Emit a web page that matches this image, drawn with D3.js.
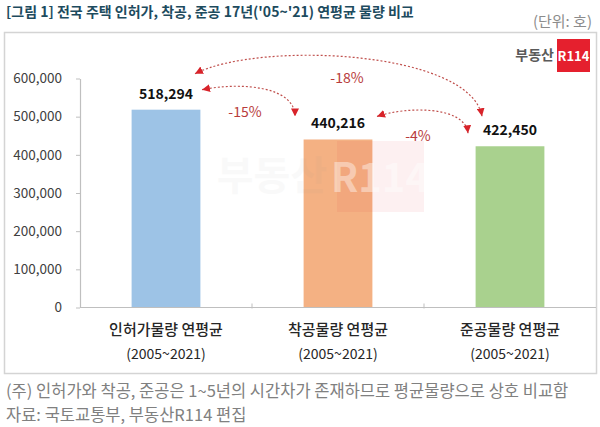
<!DOCTYPE html>
<html>
<head>
<meta charset="utf-8">
<script src="https://cdn.jsdelivr.net/npm/d3@7"></script>
<style>
  body { margin: 0; background: #fff; }
  text { font-family: "Noto Sans CJK KR", "Noto Sans", sans-serif; }
</style>
</head>
<body>
<div id="chart"></div>
<script>
// data
var categories = ["인허가물량 연평균", "착공물량 연평균", "준공물량 연평균"];
var periods = ["(2005~2021)", "(2005~2021)", "(2005~2021)"];
var values = [518294, 440216, 422450];
var barColors = ["#9dc3e6", "#f4b183", "#a9d18e"];
var yTicks = [0, 100000, 200000, 300000, 400000, 500000, 600000];
// comparison arrows: from bar, to bar, label
var arrowFrom = [0, 1, 0];
var arrowTo = [1, 2, 2];
var arrowLabels = ["-15%", "-4%", "-18%"];

var width = 600, height = 427;
var margin = {top: 78, right: 4, bottom: 120, left: 80};

var svg = d3.select("#chart")
  .append("svg")
    .attr("width", width)
    .attr("height", height);

// title + unit
svg.append("text").attr("x", 6).attr("y", 17)
  .text("[그림 1] 전국 주택 인허가, 착공, 준공 17년('05~'21) 연평균 물량 비교")
  .style("font-size", "14px").style("font-weight", "bold").style("fill", "#1d4b5e");
svg.append("text").attr("x", 592).attr("y", 27).attr("text-anchor", "end")
  .text("(단위: 호)").style("font-size", "15px").style("fill", "#8c8c8c");

// frame
svg.append("rect").attr("x", 4.5).attr("y", 32.5).attr("width", 592).attr("height", 341)
  .style("fill", "none").style("stroke", "#d4d4d4").style("stroke-width", 1.5);

var x = d3.scaleBand()
  .domain(d3.range(categories.length))
  .range([margin.left, 596])
  .padding(0);

var y = d3.scaleLinear()
  .domain([0, 600000])
  .range([307.5, margin.top + 0.5]);

var barW = x.bandwidth() * 0.4;

// bars
svg.append("g")
  .selectAll("rect")
  .data(values)
  .enter()
  .append("rect")
    .attr("x", function (d, i) { return x(i) + (x.bandwidth() - barW) / 2; })
    .attr("y", function (d) { return y(d); })
    .attr("width", barW)
    .attr("height", function (d) { return y(0) - y(d); })
    .style("fill", function (d, i) { return barColors[i]; });

// faint watermark
var wm = svg.append("g");
wm.append("rect").attr("x", 337).attr("y", 141).attr("width", 87).attr("height", 71)
  .style("fill", "#e8303a").style("opacity", 0.07);
wm.append("text").attr("x", 272).attr("y", 190).attr("text-anchor", "middle")
  .text("부동산").style("font-size", "40px").style("font-weight", "bold")
  .style("fill", "#888").style("opacity", 0.045);
wm.append("text").attr("x", 380).attr("y", 192).attr("text-anchor", "middle")
  .text("R114").style("font-size", "40px").style("font-weight", "bold")
  .style("fill", "#fff").style("opacity", 0.4);

// Y axis
var yAxis = svg.append("g")
  .attr("transform", "translate(" + margin.left + ",0)")
  .call(d3.axisLeft(y).tickValues(yTicks).tickFormat(d3.format(",")).tickSizeInner(4).tickSizeOuter(0).tickPadding(14));
yAxis.select(".domain").style("stroke", "#bfbfbf").style("stroke-width", 1.2);
yAxis.selectAll(".tick line").style("stroke", "#bfbfbf");
yAxis.selectAll(".tick text").style("font-size", "13.5px").style("fill", "#404040")
  .style("font-family", "'Noto Sans CJK KR', 'Noto Sans', sans-serif");

// X axis line with boundary ticks
var xg = svg.append("g");
xg.append("line").attr("x1", margin.left).attr("x2", 596).attr("y1", y(0)).attr("y2", y(0))
  .style("stroke", "#bfbfbf").style("stroke-width", 1.2);
xg.selectAll(".bt")
  .data(d3.range(1, categories.length))
  .enter()
  .append("line")
    .attr("x1", function (d) { return x(d); })
    .attr("x2", function (d) { return x(d); })
    .attr("y1", y(0) - 4).attr("y2", y(0) + 1)
    .style("stroke", "#bfbfbf");

// category labels
svg.append("g").selectAll("text").data(categories).enter().append("text")
  .attr("x", function (d, i) { return x(i) + x.bandwidth() / 2; })
  .attr("y", 335)
  .attr("text-anchor", "middle")
  .text(function (d) { return d; })
  .style("font-size", "15px").style("font-weight", "500").style("fill", "#262626");
svg.append("g").selectAll("text").data(periods).enter().append("text")
  .attr("x", function (d, i) { return x(i) + x.bandwidth() / 2; })
  .attr("y", 359)
  .attr("text-anchor", "middle")
  .text(function (d) { return d; })
  .style("font-size", "14px").style("fill", "#262626");

// value labels
svg.append("g").selectAll("text").data(values).enter().append("text")
  .attr("x", function (d, i) { return x(i) + x.bandwidth() / 2; })
  .attr("y", function (d) { return y(d) - 11; })
  .attr("text-anchor", "middle")
  .text(function (d) { return d3.format(",")(d); })
  .style("font-size", "14px").style("font-weight", "bold").style("fill", "#111");

// arrows
svg.append("defs").append("marker")
  .attr("id", "head")
  .attr("viewBox", "0 0 10 10")
  .attr("refX", 10).attr("refY", 5)
  .attr("markerWidth", 8).attr("markerHeight", 8)
  .attr("markerUnits", "userSpaceOnUse")
  .attr("orient", "auto-start-reverse")
  .append("path").attr("d", "M0,0L10,5L0,10z").style("fill", "#d8232a");

// start/end offsets from bar centre & top, and curve control offsets
var arrowGeom = [
  {s: [36, -20], e: [-43, -23], c1: [40, -8], c2: [0, -30], lab: [245, 112]},
  {s: [39, -23], e: [-42, -13], c1: [28, -10], c2: [-3, -28], lab: [418, 136]},
  {s: [29, -36], e: [-28, -30], c1: [65, -33], c2: [-12, -66], lab: [347, 78]}
];

arrowFrom.forEach(function (f, k) {
  var t = arrowTo[k], g = arrowGeom[k];
  var cf = x(f) + x.bandwidth() / 2, ct = x(t) + x.bandwidth() / 2;
  var sx = cf + g.s[0], sy = y(values[f]) + g.s[1];
  var ex = ct + g.e[0], ey = y(values[t]) + g.e[1];
  var p = d3.path();
  p.moveTo(sx, sy);
  p.bezierCurveTo(sx + g.c1[0], sy + g.c1[1], ex + g.c2[0], ey + g.c2[1], ex, ey);
  svg.append("path")
    .attr("d", p.toString())
    .style("fill", "none").style("stroke", "#c0504d").style("stroke-width", 1.2)
    .style("stroke-dasharray", "2,2")
    .attr("marker-start", "url(#head)")
    .attr("marker-end", "url(#head)");
  svg.append("text").attr("x", g.lab[0]).attr("y", g.lab[1] + 5)
    .attr("text-anchor", "middle")
    .text(arrowLabels[k])
    .style("font-size", "14px").style("fill", "#b83c3c");
});

// logo
svg.append("text").attr("x", 554).attr("y", 60).attr("text-anchor", "end")
  .text("부동산").style("font-size", "14px").style("font-weight", "bold").style("fill", "#5a5a5a");
svg.append("rect").attr("x", 557).attr("y", 39).attr("width", 33).attr("height", 33)
  .style("fill", "#e5202e");
svg.append("text").attr("x", 573.5).attr("y", 61).attr("text-anchor", "middle")
  .text("R114").style("font-size", "13px").style("font-weight", "bold").style("fill", "#fff");

// footnotes
svg.append("text").attr("x", 6).attr("y", 397)
  .text("(주) 인허가와 착공, 준공은 1~5년의 시간차가 존재하므로 평균물량으로 상호 비교함")
  .style("font-size", "16.5px").style("fill", "#808080");
svg.append("text").attr("x", 6).attr("y", 421)
  .text("자료: 국토교통부, 부동산R114 편집")
  .style("font-size", "16.5px").style("fill", "#808080");
</script>
</body>
</html>
